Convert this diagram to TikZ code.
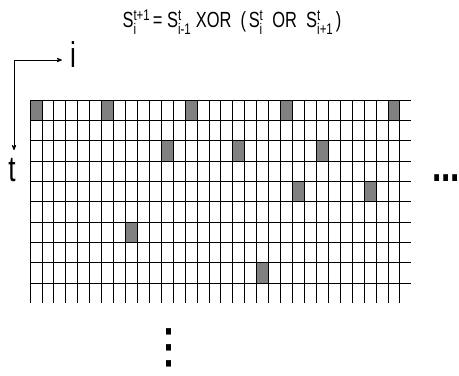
\documentclass[tikz,border=0pt]{standalone}
\usepackage{fontspec}
\usepackage{amsmath}
\usepackage{graphicx}
\setmainfont{Liberation Sans}
\usetikzlibrary{arrows}
\newcommand{\narrow}[1]{\scalebox{0.73}[1]{#1}}

\begin{document}
\begin{tikzpicture}[x=1bp,y=-1bp,>=stealth',
                    grid line/.style={black,line width=0.8bp},
                    live cell/.style={fill=gray,draw=black,line width=0.8bp},
                    axis label/.style={inner sep=0pt,font=\fontsize{36}{40}\selectfont},
                    dot mark/.style={inner sep=0pt,font=\fontsize{46}{50}\selectfont\bfseries}]
\useasboundingbox (0,0) rectangle (459,375);
%%%%%
\node[inner sep=0pt,font=\fontsize{22}{26}\selectfont] (rule) at (232,22)
  {\scalebox{0.75}[1]{S$^{\text{t+1}}_{\text{i}}$\,= S$^{\text{t}}_{\text{i-1}}$ XOR\ \ (\,S$^{\text{t}}_{\text{i}}$\ \ OR\ \ S$^{\text{t}}_{\text{i+1}}$\,)}};
\node[axis label] (i) at (73,55) {\narrow{i}};
\node[axis label] (t) at (12,170) {\narrow{t}};
\coordinate (corner) at (14,60);
\draw[->,line width=0.8bp,shorten >=8bp] (corner) -- (corner -| i.west);
\draw[->,line width=0.8bp,shorten >=8bp] (corner) -- (corner |- t.north);
%%%%%%%
% live cells (column,row)
\foreach \c/\r in {0/0,6/0,13/0,21/0,30/0,11/2,17/2,24/2,22/4,28/4,8/6,19/8}
  \draw[live cell] (30+\c*11.93,100+\r*20.33) rectangle ++(11.93,20.33);
%%%%%%%
\foreach \r in {0,...,9}
  \draw[grid line] (30,100+\r*20.33) -- ++(381,0);
\foreach \c in {0,...,31}
  \draw[grid line] (30+\c*11.93,100) -- ++(0,203);
%%%%%
\node[dot mark] (more cols) at (446,178) {\narrow{...}};
\node[dot mark,rotate=-90] (more rows) at (169,348)
  {\scalebox{1}[0.73]{.\hspace{3.2bp}.\hspace{3.2bp}.}};
\end{tikzpicture}
\end{document}
